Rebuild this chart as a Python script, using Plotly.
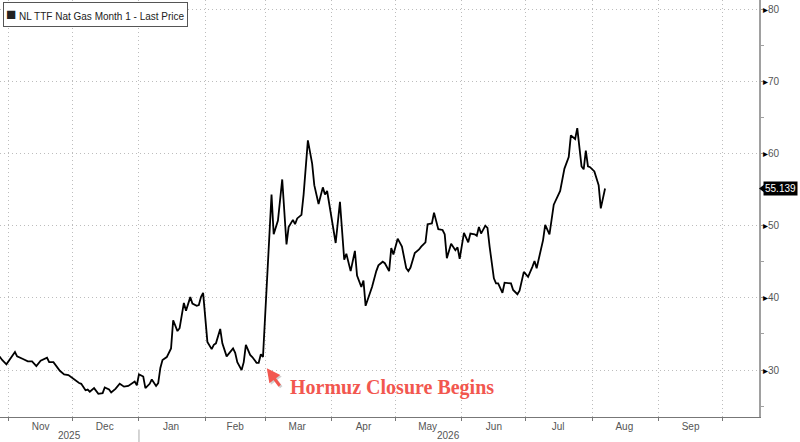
import plotly.graph_objects as go

# ---------------- data ----------------
dates = [
    "2025-10-26", "2025-10-28", "2025-10-29", "2025-10-31", "2025-11-04", "2025-11-05",
    "2025-11-08", "2025-11-10", "2025-11-12", "2025-11-14", "2025-11-16", "2025-11-19",
    "2025-11-20", "2025-11-22", "2025-11-25", "2025-11-27", "2025-11-29", "2025-12-02",
    "2025-12-04", "2025-12-05", "2025-12-07", "2025-12-08", "2025-12-09", "2025-12-11",
    "2025-12-13", "2025-12-15", "2025-12-16", "2025-12-18", "2025-12-19", "2025-12-21",
    "2025-12-23", "2025-12-25", "2025-12-27", "2025-12-30", "2025-12-31", "2026-01-01",
    "2026-01-03", "2026-01-04", "2026-01-06", "2026-01-07", "2026-01-09", "2026-01-10",
    "2026-01-11", "2026-01-12", "2026-01-14", "2026-01-16", "2026-01-17", "2026-01-19",
    "2026-01-20", "2026-01-22", "2026-01-23", "2026-01-25", "2026-01-26", "2026-01-28",
    "2026-01-29", "2026-01-30", "2026-01-31", "2026-02-02", "2026-02-04", "2026-02-05",
    "2026-02-06", "2026-02-08", "2026-02-09", "2026-02-11", "2026-02-12", "2026-02-14",
    "2026-02-15", "2026-02-16", "2026-02-18", "2026-02-19", "2026-02-20", "2026-02-22",
    "2026-02-23", "2026-02-25", "2026-02-26", "2026-02-27", "2026-02-28", "2026-03-04",
    "2026-03-05", "2026-03-07", "2026-03-09", "2026-03-11", "2026-03-12", "2026-03-14",
    "2026-03-15", "2026-03-16", "2026-03-18", "2026-03-19", "2026-03-21", "2026-03-23",
    "2026-03-24", "2026-03-26", "2026-03-28", "2026-03-29", "2026-03-30", "2026-04-01",
    "2026-04-03", "2026-04-05", "2026-04-07", "2026-04-08", "2026-04-10", "2026-04-12",
    "2026-04-13", "2026-04-15", "2026-04-16", "2026-04-17", "2026-04-20", "2026-04-22",
    "2026-04-23", "2026-04-25", "2026-04-26", "2026-04-28", "2026-04-29", "2026-04-30",
    "2026-05-02", "2026-05-04", "2026-05-06", "2026-05-07", "2026-05-08", "2026-05-10",
    "2026-05-12", "2026-05-13", "2026-05-15", "2026-05-16", "2026-05-18", "2026-05-19",
    "2026-05-21", "2026-05-23", "2026-05-24", "2026-05-25", "2026-05-27", "2026-05-29",
    "2026-05-30", "2026-05-31", "2026-06-02", "2026-06-04", "2026-06-05", "2026-06-07",
    "2026-06-08", "2026-06-09", "2026-06-10", "2026-06-12", "2026-06-13", "2026-06-14",
    "2026-06-16", "2026-06-17", "2026-06-18", "2026-06-20", "2026-06-21", "2026-06-24",
    "2026-06-25", "2026-06-27", "2026-06-28", "2026-06-30", "2026-07-02", "2026-07-04",
    "2026-07-05", "2026-07-06", "2026-07-09", "2026-07-10", "2026-07-12", "2026-07-14",
    "2026-07-16", "2026-07-17", "2026-07-19", "2026-07-21", "2026-07-22", "2026-07-24",
    "2026-07-25", "2026-07-27", "2026-07-28", "2026-07-29", "2026-07-30", "2026-07-31",
    "2026-08-02", "2026-08-04", "2026-08-05", "2026-08-07",
]
prices = [
    31.5, 31.8, 31.4, 30.8, 32.5, 31.9,
    31.5, 31.2, 31.2, 30.55, 31.3, 31.7,
    31.1, 31.1, 29.9, 29.4, 29.3, 28.6,
    28.2, 28.1, 27.2, 27.3, 27.0, 27.5,
    26.7, 26.8, 27.6, 27.3, 26.9, 27.4,
    28.1, 27.7, 27.8, 28.4, 27.9, 29.4,
    29.1, 27.5, 28.1, 28.7, 27.8, 28.2,
    30.3, 31.4, 31.8, 33.0, 36.9, 35.4,
    35.8, 39.3, 38.2, 40.1, 39.2, 38.9,
    39.0, 40.1, 40.7, 33.9, 32.9, 33.5,
    33.7, 35.7, 33.7, 31.9, 32.3, 33.0,
    32.4, 31.1, 30.0, 31.1, 33.5, 32.1,
    31.8, 31.0, 31.0, 32.2, 31.8, 54.3,
    48.8, 50.7, 56.4, 47.4, 49.8, 50.8,
    50.2, 51.0, 51.5, 54.3, 61.8, 58.6,
    55.6, 53.0, 55.3, 54.3, 54.8, 51.2,
    47.6, 53.3, 45.3, 46.1, 43.7, 46.5,
    43.1, 41.5, 42.4, 38.9, 41.5, 43.7,
    44.5, 45.0, 44.8, 43.7, 46.9, 46.0,
    48.2, 47.1, 44.1, 43.7, 44.2, 46.2,
    46.7, 47.1, 47.7, 50.2, 50.3, 51.8,
    49.5, 49.4, 48.8, 45.5, 47.5, 46.6,
    47.0, 45.4, 49.0, 47.7, 48.9, 48.8,
    48.6, 49.8, 48.9, 50.0, 49.7, 47.1,
    42.7, 42.0, 42.0, 40.7, 42.1, 42.0,
    41.1, 40.5, 41.0, 43.6, 42.9, 44.3,
    45.1, 44.1, 48.0, 50.1, 48.8, 52.9,
    54.3, 54.8, 57.9, 59.5, 62.5, 62.0,
    63.5, 58.2, 57.8, 60.4, 58.2, 58.1,
    57.5, 55.6, 52.4, 55.139,
]

series_name = "NL TTF Nat Gas Month 1 - Last Price"
month_starts = ["2025-11-01", "2025-12-01", "2026-01-01", "2026-02-01", "2026-03-01",
                "2026-04-01", "2026-05-01", "2026-06-01", "2026-07-01", "2026-08-01",
                "2026-09-01", "2026-10-01"]
month_mids = ["2025-11-16", "2025-12-16", "2026-01-16", "2026-02-15", "2026-03-16",
              "2026-04-16", "2026-05-16", "2026-06-16", "2026-07-16", "2026-08-16",
              "2026-09-16"]
month_labels = ["Nov", "Dec", "Jan", "Feb", "Mar", "Apr", "May", "Jun", "Jul", "Aug", "Sep"]
y_ticks = [30, 40, 50, 60, 70, 80]
annotation_text = "Hormuz Closure Begins"
event_date = "2026-03-01 19:00"
event_level = 30.25

# ---------------- figure ----------------
AXIS_FONT = "Liberation Sans"
CORAL = "#f2574f"
GRID = "#bdbdbd"
GRID_DASH = "1px,3px"

fig = go.Figure()
fig.add_trace(go.Scatter(
    x=dates, y=prices, mode="lines",
    line=dict(color="#000000", width=1.8),
    name=series_name, showlegend=False, hoverinfo="skip",
))

fig.update_layout(
    width=800, height=442,
    margin=dict(l=0, r=41, t=0, b=25),
    paper_bgcolor="white", plot_bgcolor="white",
    font=dict(family=AXIS_FONT, size=10, color="#555555"),
    xaxis=dict(
        type="date",
        range=["2025-10-28", "2026-10-18"],
        tickmode="array", tickvals=month_mids, ticktext=month_labels,
        ticks="", showgrid=False, zeroline=False,
        showline=True, linecolor="#777777", linewidth=1,
        tickfont=dict(family=AXIS_FONT, size=10, color="#555555"),
        minor=dict(tickmode="array", tickvals=month_starts, showgrid=True,
                   gridcolor=GRID, griddash=GRID_DASH, gridwidth=1,
                   ticks="outside", ticklen=3, tickcolor="#777777"),
        fixedrange=True,
    ),
    yaxis=dict(
        side="right",
        range=[23.5, 81.25],
        tickmode="array", tickvals=y_ticks,
        ticktext=['<span style="color:#000">\u25b8</span>%d' % v for v in y_ticks],
        ticks="", showgrid=True, gridcolor=GRID, griddash=GRID_DASH, gridwidth=1,
        zeroline=False, showline=True, linecolor="#a0a0a0", linewidth=2,
        tickfont=dict(family=AXIS_FONT, size=10, color="#555555"),
        minor=dict(dtick=5, tick0=0, ticks="outside", ticklen=3, tickcolor="#a0a0a0",
                   showgrid=False),
        fixedrange=True,
    ),
)

# legend box
fig.add_annotation(
    xref="paper", yref="paper", x=0.004, y=0.995, xanchor="left", yanchor="top",
    text='<span style="font-size:17px">\u25a0</span> ' + series_name,
    showarrow=False, font=dict(family=AXIS_FONT, size=10, color="#222222"),
    bgcolor="white", bordercolor="#555555", borderwidth=1, borderpad=2,
)

# last price label
last_value = prices[-1]
fig.add_annotation(
    xref="paper", yref="y", x=1, y=last_value, xanchor="left", yanchor="middle",
    xshift=4, text="%.3f" % last_value, showarrow=False,
    font=dict(family=AXIS_FONT, size=10, color="white"),
    bgcolor="black", borderpad=1,
)
fig.add_shape(type="path", xref="paper", yref="y",
              path="M 1.0 %f L 1.007 %f L 1.007 %f Z" % (last_value, last_value + 0.55, last_value - 0.55),
              fillcolor="black", line=dict(width=0))

# year labels and separator
fig.add_annotation(xref="paper", yref="paper", x=69 / 759, y=-0.045,
                   xanchor="center", yanchor="middle",
                   text="2025", showarrow=False,
                   font=dict(family=AXIS_FONT, size=10, color="#555555"))
fig.add_annotation(xref="paper", yref="paper", x=448 / 759, y=-0.045,
                   xanchor="center", yanchor="middle",
                   text="2026", showarrow=False,
                   font=dict(family=AXIS_FONT, size=10, color="#555555"))
fig.add_shape(type="line", xref="x", yref="paper", x0="2026-01-01", x1="2026-01-01",
              y0=-0.03, y1=-0.065, line=dict(color="#aaaaaa", width=1))

# event annotation: arrow (with soft shadow) and text
fig.add_annotation(x=event_date, y=event_level, xref="x", yref="y", text="",
                   showarrow=True, ax=14, ay=19, arrowhead=2, arrowsize=0.9, arrowwidth=3,
                   arrowcolor="rgba(0,0,0,0.18)", xshift=1.5, yshift=-1.5, standoff=0)
fig.add_annotation(x=event_date, y=event_level, xref="x", yref="y", text="",
                   showarrow=True, ax=14, ay=19, arrowhead=2, arrowsize=0.9, arrowwidth=3,
                   arrowcolor=CORAL, standoff=0)
fig.add_annotation(xref="paper", yref="paper", x=391.5 / 759, y=30 / 417,
                   xanchor="center", yanchor="middle", showarrow=False,
                   text="<b>%s</b>" % annotation_text,
                   font=dict(family="Liberation Serif", size=20, color=CORAL))

fig.write_html("out.html", config={"displayModeBar": False},
               post_script="document.body.style.margin='0';")
